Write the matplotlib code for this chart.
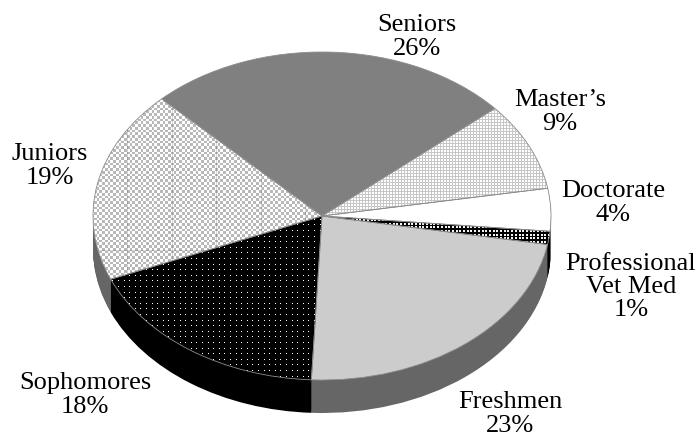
import numpy as np
import matplotlib
matplotlib.use('Agg')
import matplotlib.pyplot as plt

# Shares going counter-clockwise from the Seniors/Master's boundary
categories = ['Seniors', 'Juniors', 'Sophomores', 'Freshmen', 'Professional\nVet Med', 'Doctorate', 'Master\u2019s']
values = [26, 19, 18, 23, 1.3, 4.2, 8.7]
percent_labels = ['26%', '19%', '18%', '23%', '1%', '4%', '9%']

# Styling of each slice
top_colors = ['#808080', 'white', 'black', '#cccccc', 'black', 'white', 'white']
side_colors = ['#666666', '#666666', 'black', '#666666', 'black', '#666666', '#666666']

# Label centres in pixels
label_xy = [(417, 37), (50, 166), (85, 395), (510, 414), (631, 287), (613, 203), (560, 112)]

W, H = 700, 436
CX, CY = 322, 216   # centre of top face, px
RX, RY = 229, 164   # radii of the top face, px
DEPTH = 33          # px
START = 41

xx, yy = np.meshgrid(np.arange(W), np.arange(H))


# Square grid of spots, grey levels 0-1
def spots(period, size, bg, fg):
    mask = (xx % period < size) & (yy % period < size)
    return np.where(mask, fg, bg)


# Checkerboard look of the Juniors fill, with the faint tile seams of the original
def checker(period, bg, fg):
    tex = np.where((np.floor(xx / (period / 2)) + np.floor(yy / (period / 2))) % 2 == 0, fg, bg)
    tex = np.where((xx - 127) % 44.5 < 1, tex * 0.85, tex)
    tex = np.where(yy == 250, tex * 0.85, tex)
    return tex


textures = {
    'Juniors': checker(5.5, 0.72, 1.0),
    'Sophomores': spots(5.6, 1, 0.0, 1.0),
    'Professional\nVet Med': spots(3.7, 2, 0.0, 0.95),
    'Master\u2019s': spots(3, 2, 0.78, 1.0),
}

fig = plt.figure(figsize=(W / 100, H / 100), dpi=100)
ax = fig.add_axes([0, 0, 1, 1])

x0, x1 = -CX / RX, (W - CX) / RX
y0, y1 = (CY - H) / RY, CY / RY

# Side wall: stacked copies of the pie, lowest first
for d in np.arange(DEPTH, 0, -1):
    ax.pie(values, colors=side_colors, startangle=START, counterclock=True,
           center=(0, -d / RY), radius=1, wedgeprops={'linewidth': 0})

# Top face
wedges, _ = ax.pie(values, colors=top_colors, startangle=START, counterclock=True,
                   center=(0, 0), radius=1, wedgeprops={'linewidth': 0})

# Fill patterns clipped to their slices
for name, w in zip(categories, wedges):
    if name in textures:
        im = ax.imshow(textures[name], cmap='gray', vmin=0, vmax=1, aspect='auto',
                       interpolation='nearest', extent=(x0, x1, y0, y1), zorder=1.5)
        im.set_clip_path(w)

# Thin grey outline on top of the patterns
outline, _ = ax.pie(values, colors=['none'] * len(values), startangle=START, counterclock=True,
                    center=(0, 0), radius=1, wedgeprops={'linewidth': 0.6, 'edgecolor': '#8c8c8c'})
for w in outline:
    w.set_zorder(2)

ax.set_aspect('auto')
ax.set_xlim(x0, x1)
ax.set_ylim(y0, y1)

for name, pct, (x, y) in zip(categories, percent_labels, label_xy):
    fig.text(x / W, 1 - y / H, name + '\n' + pct, ha='center', va='center',
             family='Liberation Serif', fontsize=19, color='black', linespacing=1.07)

fig.savefig('out.png', dpi=100)
